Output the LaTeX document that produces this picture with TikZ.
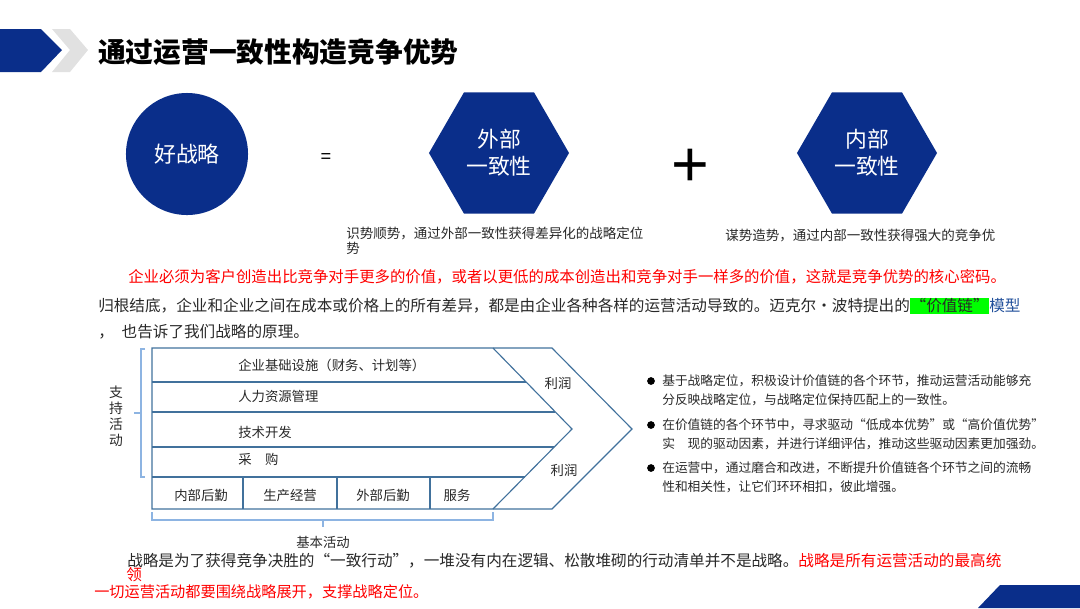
\documentclass[tikz,border=0pt]{standalone}
\usepackage{fontspec}
\newfontfamily\cjk{Noto Sans CJK SC}
\newfontfamily\latin{Liberation Sans}
\usetikzlibrary{shapes.geometric,positioning}
\definecolor{navy}{RGB}{10,46,138}
\definecolor{chainblue}{RGB}{65,113,156}
\definecolor{bracketblue}{RGB}{141,180,226}
\definecolor{inkgray}{RGB}{40,40,40}
\definecolor{hlgreen}{RGB}{0,255,0}
\definecolor{linkblue}{RGB}{31,78,154}
\definecolor{headgray}{RGB}{225,225,225}
\setlength{\fboxsep}{0.5pt}

\begin{document}
\begin{tikzpicture}[x=0.025cm,y=-0.025cm,
  title/.style={anchor=west,inner sep=0pt,font=\cjk\bfseries\fontsize{19.7}{24}\selectfont},
  disc/.style={circle,fill=navy,minimum size=3.05cm,inner sep=0pt,text=white,font=\cjk\fontsize{15.6}{18}\selectfont},
  hexa/.style={regular polygon,regular polygon sides=6,fill=navy,minimum size=3.5cm,inner sep=0pt,text=white,align=center,font=\cjk\fontsize{15.5}{19}\selectfont},
  sym/.style={inner sep=0pt,text=black},
  capt/.style={anchor=west,inner sep=0pt,align=left,text=inkgray,font=\cjk\fontsize{9.6}{10.8}\selectfont},
  body/.style={anchor=west,inner sep=0pt,text=inkgray,font=\cjk\fontsize{11.1}{14}\selectfont},
  lbl/.style={inner sep=0pt,text=inkgray,font=\cjk\fontsize{9.5}{11.4}\selectfont},
  bul/.style={anchor=west,inner sep=0pt,align=left,text=inkgray,font=\cjk\fontsize{9.05}{13.5}\selectfont},
  dot/.style={circle,fill=black,inner sep=0pt,minimum size=5.5pt},
  chain/.style={draw=chainblue,line width=0.8pt},
  brace/.style={draw=bracketblue,line width=0.9pt}]
\useasboundingbox (0,0) rectangle (1080,608);

% header
\fill[navy] (0,29) -- (41,29) -- (62,50) -- (41,72) -- (0,72) -- cycle;
\fill[headgray] (52,29) -- (70,29) -- (88,50) -- (70,72) -- (52,72) -- (70,50) -- cycle;
\node[title] (ttl) at (98,52) {通过运营一致性构造竞争优势};

% good strategy = external + internal
\node[disc] (good) at (187,154) {好战略};
\node[sym,font=\latin\fontsize{13}{13}\selectfont] (eq) at (326,158) {=};
\node[hexa] (ext) at (499,153) {外部\\一致性};
\node[sym,font=\latin\fontsize{46}{46}\selectfont] (plus) at (690,168) {+};
\node[hexa] (int) at (867,153) {内部\\一致性};
\node[capt] (extcap) at (346,241) {识势顺势，通过外部一致性获得差异化的战略定位\\势};
\node[capt] (intcap) at (725,236) {谋势造势，通过内部一致性获得强大的竞争优};

% text
\node[body,text=red,font=\cjk\fontsize{10.95}{14}\selectfont] (core) at (128,277) {企业必须为客户创造出比竞争对手更多的价值，或者以更低的成本创造出和竞争对手一样多的价值，这就是竞争优势的核心密码。};
\node[body] (root1) at (98,306) {归根结底，企业和企业之间在成本或价格上的所有差异，都是由企业各种各样的运营活动导致的。迈克尔·波特提出的\colorbox{hlgreen}{“价值链”}\textcolor{linkblue}{模型}};
\node[body] (root2) at (98,332) {，\hspace{0.5em}也告诉了我们战略的原理。};

% value chain
\draw[chain] (152,348) -- (552,348) -- (632,429) -- (552,509) -- (152,509) -- cycle;
\draw[chain] (493,348) -- (572,429) -- (493,509);
\foreach \y/\xe in {382/526,412/555,447/554,477/525}
  \draw[chain] (152,\y) -- (\xe,\y);
\foreach \x in {243,337,430}
  \draw[chain] (\x,477) -- (\x,509);
\node[lbl,anchor=west] (infra) at (238,365) {企业基础设施（财务、计划等）};
\node[lbl,anchor=west] (hr) at (238,396) {人力资源管理};
\node[lbl,anchor=west] (tech) at (238,432) {技术开发};
\node[lbl,anchor=west] (buy) at (238,459) {采　购};
\node[lbl] (inlog) at (201,495) {内部后勤};
\node[lbl] (ops) at (290,495) {生产经营};
\node[lbl] (outlog) at (383,495) {外部后勤};
\node[lbl] (serv) at (457,495) {服务};
\node[lbl] (profit1) at (558,383) {利润};
\node[lbl] (profit2) at (564,470) {利润};

% brackets
\draw[brace] (145,349) -- (141,349) -- (141,477) -- (145,477);
\draw[brace] (141,413) -- (134,413);
\node[lbl,align=center,font=\cjk\fontsize{9.8}{11.4}\selectfont] (support) at (116,416) {支\\持\\活\\动};
\draw[brace] (152,512) -- (152,520) -- (493,520) -- (493,512);
\draw[brace] (323,520) -- (323,527);
\node[lbl] (basic) at (323,542) {基本活动};

% bullets
\node[dot] (d1) at (651,381) {};
\node[bul] (b1) at (662,390) {基于战略定位，积极设计价值链的各个环节，推动运营活动能够充\\分反映战略定位，与战略定位保持匹配上的一致性。};
\node[dot] (d2) at (651,425) {};
\node[bul] (b2) at (662,434) {在价值链的各个环节中，寻求驱动“低成本优势”或“高价值优势”\\实　现的驱动因素，并进行详细评估，推动这些驱动因素更加强劲。};
\node[dot] (d3) at (651,468) {};
\node[bul] (b3) at (662,477) {在运营中，通过磨合和改进，不断提升价值链各个环节之间的流畅\\性和相关性，让它们环环相扣，彼此增强。};

% closing text
\node[body] (act1) at (127,561) {战略是为了获得竞争决胜的“一致行动”，一堆没有内在逻辑、松散堆砌的行动清单并不是战略。\textcolor{red}{战略是所有运营活动的最高统}};
\node[body,text=red] (ling) at (126,575) {领};
\node[body,text=red,font=\cjk\fontsize{10.8}{13}\selectfont] (act2) at (94,592) {一切运营活动都要围绕战略展开，支撑战略定位。};

% corner
\fill[navy] (1000,585) -- (1080,585) -- (1080,608) -- (978,608) -- cycle;
\end{tikzpicture}
\end{document}
